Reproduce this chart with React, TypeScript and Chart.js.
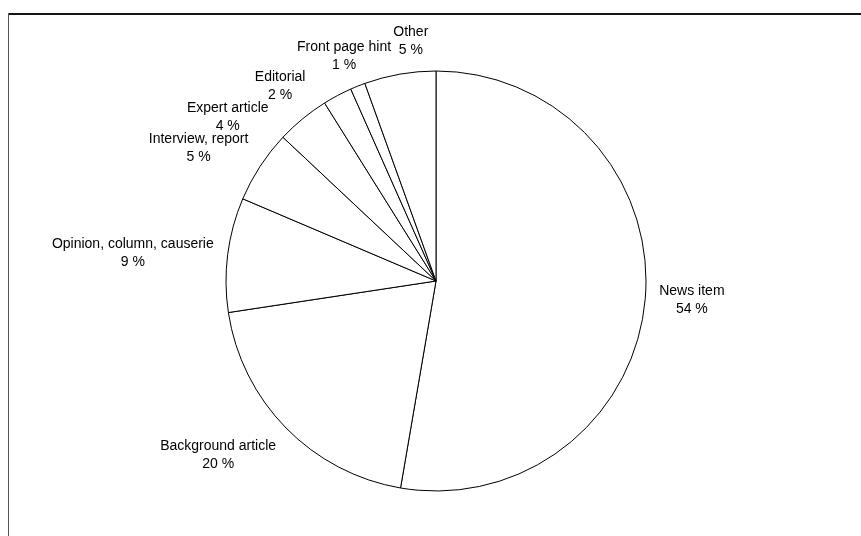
import React, { useEffect, useRef } from "react";
import { Chart, registerables } from "chart.js";

Chart.register(...registerables);

const categories = [
  "News item",
  "Background article",
  "Opinion, column, causerie",
  "Interview, report",
  "Expert article",
  "Editorial",
  "Front page hint",
  "Other",
];
const sliceValues = [52.7, 19.9, 8.8, 5.6, 4.1, 2.25, 1.15, 5.5];
const percentLabels = ["54 %", "20 %", "9 %", "5 %", "4 %", "2 %", "1 %", "5 %"];

const FONT = '14px "Liberation Sans", Arial, sans-serif';
const LINE_H = 18;
const GAP = 14;

const framePlugin = {
  id: "frame",
  beforeDraw(chart: any) {
    const ctx = chart.ctx;
    ctx.save();
    ctx.fillStyle = "#ffffff";
    ctx.fillRect(0, 0, chart.width, chart.height);
    ctx.fillStyle = "#161616";
    ctx.fillRect(8, 13, chart.width - 8, 2);
    ctx.fillStyle = "#555555";
    ctx.fillRect(8, 13, 1, chart.height - 13);
    ctx.restore();
  },
};

const ramp = (v: number) => {
  const a = Math.abs(v);
  const t = Math.min(1, Math.max(0, (a - 0.3) / 0.4));
  return Math.sign(v) * t;
};

const labelPlugin = {
  id: "outsideLabels",
  afterDatasetsDraw(chart: any) {
    const ctx = chart.ctx;
    const meta = chart.getDatasetMeta(0);
    ctx.save();
    ctx.font = FONT;
    const items = meta.data.map((arc: any, i: number) => {
      const p = arc.getProps(["x", "y", "startAngle", "endAngle", "outerRadius"], true);
      const lines = [categories[i], percentLabels[i]];
      const w = Math.max(...lines.map((l) => ctx.measureText(l).width));
      return {
        cx: p.x,
        cy: p.y,
        r: p.outerRadius,
        ang: (p.startAngle + p.endAngle) / 2,
        w,
        hPlace: LINE_H * lines.length - 2,
        hText: LINE_H * lines.length - 6,
        lines,
        value: sliceValues[i],
        x: 0,
        y: 0,
      };
    });
    const place = (it: any, ang: number) => {
      const ux = Math.cos(ang);
      const uy = Math.sin(ang);
      const ax = it.cx + ux * (it.r + GAP);
      const ay = it.cy + uy * (it.r + GAP);
      return { x: ax + ramp(ux) * it.w / 2, y: ay + ramp(uy) * it.hPlace / 2 };
    };
    const overlaps = (a: any, pa: any, b: any, pb: any) =>
      Math.abs(pa.x - pb.x) < (a.w + b.w) / 2 + 2 && Math.abs(pa.y - pb.y) < (a.hText + b.hText) / 2;

    const order = items.map((_: any, i: number) => i).sort((a: number, b: number) => items[a].value - items[b].value);
    const placed: any[] = [];
    order.forEach((idx: number) => {
      const it = items[idx];
      let ang = it.ang;
      let pos = place(it, ang);
      let dir = 0;
      for (let iter = 0; iter < 2000; iter++) {
        const hit = placed.find((q) => overlaps(it, pos, q, q));
        if (!hit) break;
        if (dir === 0) dir = ang >= hit.ang ? 1 : -1;
        ang += dir * 0.002;
        pos = place(it, ang);
      }
      it.x = pos.x;
      it.y = pos.y;
      it.ang = ang;
      placed.push(it);
    });

    ctx.fillStyle = "#000000";
    ctx.textAlign = "center";
    ctx.textBaseline = "middle";
    items.forEach((it: any) => {
      const top = it.y - (LINE_H * it.lines.length) / 2 + LINE_H / 2;
      it.lines.forEach((l: string, k: number) => {
        ctx.fillText(l, it.x, top + k * LINE_H);
      });
    });
    ctx.restore();
  },
};

export default function App() {
  const canvasRef = useRef<HTMLCanvasElement | null>(null);
  useEffect(() => {
    if (!canvasRef.current) return;
    const chart = new Chart(canvasRef.current, {
      type: "pie",
      data: {
        labels: categories,
        datasets: [
          {
            data: sliceValues,
            backgroundColor: "#ffffff",
            borderColor: "#000000",
            borderWidth: 1,
            borderAlign: "center",
          },
        ],
      },
      options: {
        responsive: false,
        animation: false,
        devicePixelRatio: 1,
        radius: 210,
        layout: { padding: { left: 11, right: 0, top: 26, bottom: 0 } },
        plugins: {
          legend: { display: false },
          tooltip: { enabled: false },
        },
        events: [],
      } as any,
      plugins: [framePlugin, labelPlugin],
    });
    return () => chart.destroy();
  }, []);
  return (
    <div style={{ position: "fixed", left: 0, top: 0, width: 861, height: 536, background: "#fff" }}>
      <canvas ref={canvasRef} width={861} height={536} style={{ width: 861, height: 536, display: "block" }} />
    </div>
  );
}
